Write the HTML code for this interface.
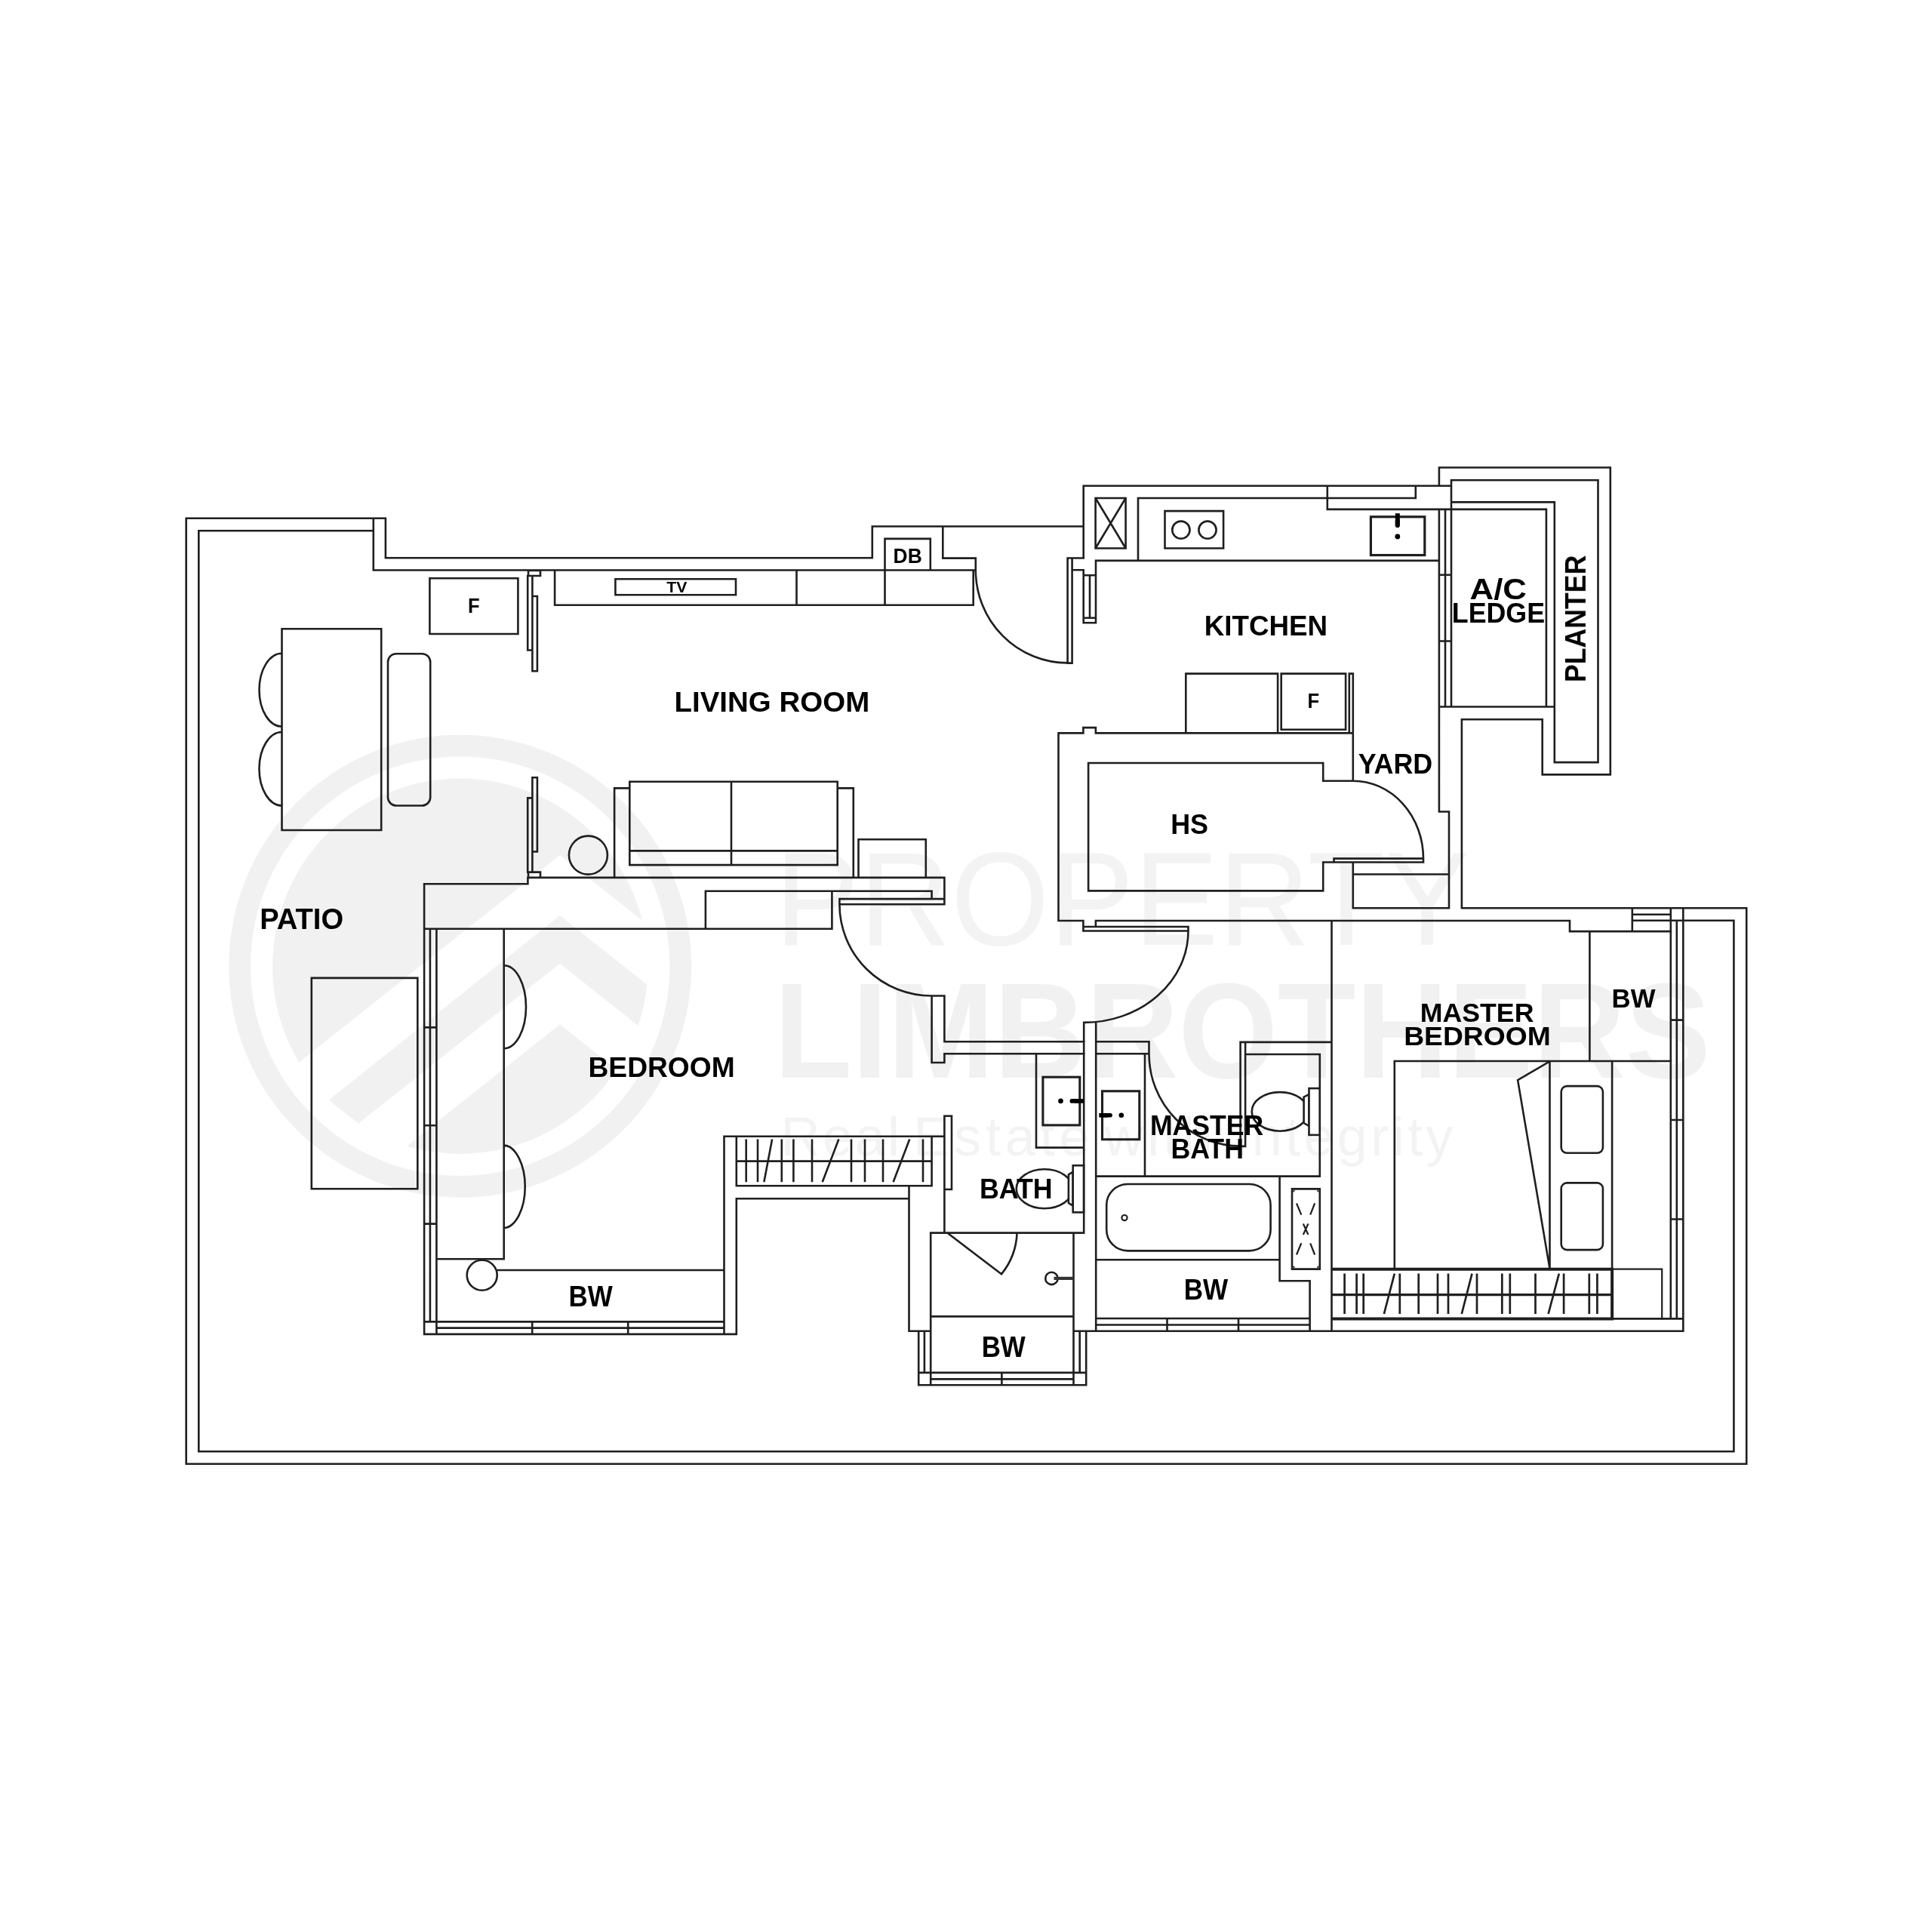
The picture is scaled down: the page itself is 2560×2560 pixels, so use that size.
<!DOCTYPE html>
<html><head><meta charset="utf-8"><title>Floor plan</title>
<style>
html,body{margin:0;padding:0;background:#fff;}
body{width:2560px;height:2560px;overflow:hidden;font-family:"Liberation Sans",sans-serif;}
svg{display:block;}
</style></head><body>
<svg width="2560" height="2560" viewBox="0 0 2560 2560">
<rect width="2560" height="2560" fill="#fff"/>

<g fill="#f1f1f1" stroke="none">
  <defs><clipPath id="disc"><circle cx="609.7" cy="1280.2" r="248.7"/></clipPath>
  <clipPath id="disc2"><circle cx="609.7" cy="1280.2" r="256"/></clipPath></defs>
  <circle cx="609.7" cy="1280.2" r="292.1" fill="none" stroke="#f1f1f1" stroke-width="28.7"/>
  <circle cx="609.7" cy="1280.2" r="248.7"/>
  <g clip-path="url(#disc2)">
    <path fill="#fff" d="M741.9,1133 L340,1452.5 L340,1676.8 L741.9,1357.3 L900,1483 L900,1258.7 Z"/>
  </g>
  <g clip-path="url(#disc)">
    <path d="M741.9,1213 L435.6,1457.8 L474.9,1488.8 L741.9,1276.7 L900,1402.4 L900,1338.7 Z"/>
  </g>
  <g font-family="'Liberation Sans', sans-serif">
    <text transform="translate(1026.65,1252.40) scale(0.9556,1)" font-size="175.73" fill="#f3f3f3">PROPERTY</text>
    <text transform="translate(1025.78,1427.70) scale(0.9450,1)" font-size="179.07" font-weight="bold">LIMBROTHERS</text>
    <text x="1034.54" y="1530.60" font-size="72.24" letter-spacing="3.002" fill="#f3f3f3">Real</text>
    <text x="1210.14" y="1530.60" font-size="72.24" letter-spacing="5.767" fill="#f3f3f3">Estate</text>
    <text x="1462.90" y="1530.60" font-size="72.24" letter-spacing="5.131" fill="#f3f3f3">with</text>
    <text x="1634.32" y="1530.60" font-size="72.24" letter-spacing="4.259" fill="#f3f3f3">Integrity</text>
  </g>
</g>

<g fill="none" stroke="#1f1f1f" stroke-width="2.6" stroke-linecap="square" stroke-linejoin="miter">
<path d="M1936.9,1203.3 L2314.2,1203.3 L2314.2,1939.8 L246.7,1939.8 L246.7,686.8 L510.9,686.8 L510.9,739.3 L1155.8,739.3 L1155.8,697.5 L1435.7,697.5
M1249.3,697.5 L1249.3,739.6 L1292.8,739.6 L1292.8,755.5
M494.8,703.3 L263.3,703.3 L263.3,1923.3 L2297.4,1923.3 L2297.4,1219.8 L2230.6,1219.8
M494.8,686.8 L494.8,755.5 L1292.8,755.5
M569.4,766.3 H686.4 V840.0 H569.4 Z
M373.5,833.3 H505.2 V1100.0 H373.5 Z
M373.5,865.7 A30,48.5 0 0 0 373.5,962.7
M373.5,970 A30,48.7 0 0 0 373.5,1067.5
M700.0,756.0 H716.0 V763.0 H700.0 Z
M699.2,763.0 H705.4 V861.5 H699.2 Z
M705.4,790.0 H711.9 V889.2 H705.4 Z
M705.4,1030.3 H711.9 V1128.5 H705.4 Z
M699.2,1057.4 H705.4 V1155.6 H699.2 Z
M700.0,1155.6 H716.0 V1162.9 H700.0 Z
M735.1,755.5 L735.1,801.7 L1289.7,801.7 L1289.7,755.5
M1055.5,755.5 V801.7
M1172.5,713.9 V801.7
M815.4,767.3 H975.0 V788.3 H815.4 Z
M1172.5,713.9 L1232.8,713.9 L1232.8,755.5
M1251.4,1198.3 L1251.4,1162.9 L699.4,1162.9 L699.4,1171.2 L562.1,1171.2 L562.1,1767.9
M562.1,1230.7 H1102.4
M934.9,1230.7 L934.9,1180.7 L1234.6,1180.7 L1234.6,1191.1
M1102.4,1180.7 V1230.7
M1112.4,1191.1 H1251.4 V1198.3 H1112.4 Z
M1112.4,1198.3 A122.2,121.2 0 0 0 1234.6,1319.5
M1234.6,1408.0 L1234.6,1319.5 L1251.4,1319.5 L1251.4,1380.3 L1436.4,1380.3
M1234.6,1408.0 L1251.4,1408.0 L1251.4,1396.3 L1436.4,1396.3
M834.3,1035.8 H1109.7 V1146.1 H834.3 Z
M969.0,1035.8 V1146.1
M834.3,1127.4 H1109.7
M834.3,1044.4 L814.1,1044.4 L814.1,1162.9
M1109.7,1044.4 L1130.8,1044.4 L1130.8,1162.9
M1137.5,1162.9 L1137.5,1112.2 L1226.8,1112.2 L1226.8,1162.9
M1414.6,739.5 H1420.6 V878.6 H1414.6 Z
M1292.8,755.5 A121.8,123 0 0 0 1414.6,878.4
M1414.6,739.5 H1435.7
M1420.6,755.3 L1435.7,755.3 L1435.7,825.2 L1452.0,825.2
M1435.7,762.3 H1452.0
M1444.0,762.3 V818.7
M1435.7,818.7 H1452.0
M1435.7,739.5 L1435.7,643.8 L1923.0,643.8
M1452.0,825.2 L1452.0,742.9 L1906.9,742.9
M1451.6,660.0 H1491.6 V726.5 H1451.6 Z
M1508.0,742.9 L1508.0,660.0 L1875.8,660.0 L1875.8,643.8
M1543.5,677.1 H1621.1 V726.5 H1543.5 Z
M1758.8,643.8 L1758.8,674.9 L2048.9,674.9 L2048.9,936.5
M1906.9,674.9 V1075.5
M1915.0,674.9 V936.5
M1923.0,636.2 V936.5
M1906.9,761.7 H1923.0
M1906.9,849.5 H1923.0
M1906.9,936.5 H2059.8
M1571.3,971.3 L1571.3,892.6 L1693.1,892.6 L1693.1,971.3
M1697.7,892.6 H1783.1 V966.8 H1697.7 Z
M1787.8,971.3 L1787.8,892.6 L1792.8,892.6 L1792.8,1034.7
M1435.4,1233.5 L1435.4,1220.0 L1402.5,1220.0 L1402.5,971.4 L1435.4,971.4 L1435.4,964.1 L1451.9,964.1 L1451.9,971.4 L1792.8,971.4
M1792.8,1034.7 L1753.2,1034.7 L1753.2,1011.0 L1442.1,1011.0 L1442.1,1180.4 L1753.2,1180.4 L1753.2,1142.5 L1886.0,1142.5
M1767.5,1142.5 L1767.5,1137.6 L1886.0,1137.6 L1886.0,1142.5
M1792.8,1034.7 A93.2,103 0 0 1 1886,1137.6
M1792.8,1142.5 L1792.8,1203.3 L1920.0,1203.3 L1920.0,1075.5 L1906.9,1075.5
M1792.8,1158.5 H1920.0
M1936.9,1203.3 L1936.9,953.3 L2043.7,953.3 L2043.7,1026.4 L2133.8,1026.4 L2133.8,619.5 L1906.9,619.5 L1906.9,643.8
M1923.0,636.2 L2117.5,636.2 L2117.5,1010.1 L2059.8,1010.1 L2059.8,665.4 L1923.0,665.4
M1451.9,1228.0 L1451.9,1220.0 L2080.0,1220.0 L2080.0,1234.1 L2214.0,1234.1
M1435.4,1228.0 H1574.5 V1233.5 H1435.4 Z
M1574.5,1233.5 A138.1,121.4 0 0 1 1436.4,1354.9
M1436.2,1354.9 V1633.6
M1452.2,1354.9 V1763.8
M1764.5,1220.0 V1763.8
M569.9,1230.7 V1751.4
M578.4,1230.7 V1767.9
M562.1,1361.4 H578.4
M562.1,1491.3 H578.4
M562.1,1621.6 H578.4
M562.1,1751.4 H959.5
M578.4,1759.6 H959.5
M562.1,1767.9 H975.8
M705.2,1751.4 V1767.9
M832.2,1751.4 V1767.9
M667.7,1230.7 L667.7,1668.2 L578.4,1668.2
M667.7,1279.3 A29.3,55 0 0 1 667.7,1389.3
M667.7,1517.4 A29.3,55 0 0 1 667.7,1627.3
M660.0,1683.0 H959.5
M412.8,1295.9 H553.3 V1575.2 H412.8 Z
M959.5,1767.9 L959.5,1505.7 L1251.4,1505.7
M975.8,1505.7 H1234.6 V1571.3 H975.8 Z
M975.8,1538.6 H1234.6
M975.8,1767.9 L975.8,1588.3 L1204.5,1588.3
M1204.5,1571.3 L1204.5,1763.8 L1233.2,1763.8
M988.7,1510.8 V1565.0
M1004.0,1510.8 V1565.0
M1035.8,1510.8 V1565.0
M1051.4,1510.8 V1565.0
M1076.0,1510.8 V1565.0
M1128.0,1510.8 V1565.0
M1146.0,1510.8 V1565.0
M1170.0,1510.8 V1565.0
M1223.0,1510.8 V1565.0
M1012.6,1565.0 L1022.9,1510.8
M1090.2,1565.0 L1110.9,1510.8
M1184.1,1565.0 L1204.8,1510.8
M1251.4,1478.8 H1261.0 V1576.0 H1251.4 Z
M1251.4,1505.7 V1633.6
M1233.2,1633.6 H1436.2
M1233.2,1633.6 V1835.3
M1422.5,1633.6 V1835.3
M1233.2,1744.4 H1422.5
M1217.2,1763.8 V1835.3
M1224.9,1763.8 V1818.9
M1217.2,1818.9 H1439.2
M1233.2,1827.4 H1422.5
M1217.2,1835.3 H1439.2
M1327.4,1818.9 V1835.3
M1430.7,1763.8 V1818.9
M1439.2,1763.8 V1835.3
M1422.5,1763.8 H2230.3
M1255.2,1633.6 L1327.0,1688.2
M1327,1688.2 A92.4,92.4 0 0 0 1347.6,1633.6
M1373.0,1396.3 L1373.0,1520.6 L1436.2,1520.6
M1452.2,1380.3 L1522.5,1380.3 L1522.5,1396.3 L1452.2,1396.3
M1522.5,1396.3 A121.2,122.3 0 0 0 1643.6,1518.6
M1517.0,1396.3 V1558.6
M1452.2,1558.6 H1748.8
M1643.6,1380.9 H1764.5
M1643.6,1380.9 H1650.1 V1518.9 H1643.6 Z
M1650.1,1397.0 L1748.8,1397.0 L1748.8,1558.6
M1695.6,1558.6 L1695.6,1697.3 L1735.6,1697.3 L1735.6,1763.8
M1452.2,1669.2 H1695.6
M1712.0,1575.4 H1748.8 V1681.6 H1712.0 Z
M1452.2,1747.0 H1735.6
M1452.2,1755.5 H1735.6
M1546.5,1747.0 V1763.8
M1641.0,1747.0 V1763.8
M2106.4,1234.1 V1406.0
M1847.8,1406.0 H2214.0
M1847.8,1406.0 V1681.7
M2053.5,1406.0 V1681.7
M2136.1,1406.0 V1681.7
M2052.5,1407.0 L2011.1,1431.1 L2053.5,1681.1
M2213.8,1203.3 V1747.4
M2221.8,1219.8 V1747.4
M2230.3,1203.3 V1763.8
M2213.8,1351.6 H2230.3
M2213.8,1484.0 H2230.3
M2213.8,1615.5 H2230.3
M2136.1,1747.4 H2230.3
M2162.8,1203.3 V1234.1
M2162.8,1211.8 H2213.8
M2162.8,1219.8 H2230.6"/>
<rect x="514" y="866.2" width="56.2" height="201.3" rx="11" ry="11"/>
<circle cx="779.4" cy="1133.1" r="25.5"/>
<path d="M1451.6,660 L1491.6,726.5 M1491.6,660 L1451.6,726.5" stroke-linecap="butt"/>
<circle cx="1564.9" cy="702.2" r="11.6"/>
<circle cx="1600" cy="702.2" r="11.6"/>
<rect x="1816.4" y="684.8" width="71.4" height="50.8" stroke-width="3.2"/>
<path d="M1851.8,680.2 V696.4" stroke="#000" stroke-width="6" stroke-linecap="butt"/>
<path d="M1851.8,690 V696.2" stroke="#000" stroke-width="6" stroke-linecap="round"/>
<circle cx="1851.8" cy="711" r="3.4" fill="#000" stroke="none"/>
<circle cx="638.7" cy="1689.7" r="20"/>
<circle cx="1393.4" cy="1693.9" r="8.2"/>
<path d="M1396.5,1693.9 H1422.5" stroke="#333" stroke-width="4.2" stroke-linecap="butt"/>
<ellipse cx="1384" cy="1575.2" rx="37.3" ry="26"/>
<path d="M1415.9,1556.4 L1421.7,1552.8 V1597.7 L1415.9,1594.1 Z" fill="#fff"/>
<rect x="1421.7" y="1544.3" width="14.3" height="62.1" fill="#fff"/>
<rect x="1381.9" y="1427.2" width="48.9" height="63.7" stroke-width="3.1"/>
<circle cx="1405.5" cy="1458.9" r="3.3" fill="#000" stroke="none"/>
<path d="M1420.3,1458.9 H1430" stroke="#000" stroke-width="5.6" stroke-linecap="round"/>
<path d="M1424,1458.9 H1436" stroke="#000" stroke-width="5.6" stroke-linecap="butt"/>
<rect x="1460.5" y="1445.8" width="49.3" height="64" stroke-width="3.1"/>
<circle cx="1485.8" cy="1477.8" r="3.3" fill="#000" stroke="none"/>
<path d="M1456.3,1477.8 H1468" stroke="#000" stroke-width="5.6" stroke-linecap="butt"/>
<path d="M1462,1477.8 H1471.1" stroke="#000" stroke-width="5.6" stroke-linecap="round"/>
<ellipse cx="1696" cy="1472.9" rx="37.3" ry="25.8"/>
<path d="M1727.6,1453.6 L1734.5,1450.2 V1492.1 L1727.6,1488.1 Z" fill="#fff"/>
<rect x="1734.5" y="1442.1" width="14.2" height="61.8" fill="#fff"/>
<rect x="1466.2" y="1569" width="217.4" height="88.4" rx="28" ry="28"/>
<circle cx="1490" cy="1613.6" r="3.6" stroke-width="2.2"/>
<path d="M1718.4,1595.5 L1723.9,1608.7 M1741.7,1595.5 L1736.6,1608.7 M1723.9,1648.3 L1718.4,1661.5 M1736.6,1648.3 L1741.7,1661.5 M1727.3,1622.5 L1733,1635 M1733,1622.5 L1727.3,1635" stroke-width="2.2"/>
<path d="M1713.6,1579.4 l1.6,-2.4 M1747.2,1579.4 l-1.6,-2.4 M1713.6,1677.6 l1.6,2.4 M1747.2,1677.6 l-1.6,2.4" stroke-width="1.6" stroke-linecap="butt"/>
<rect x="2068.7" y="1439.1" width="55.2" height="88.7" rx="7.5" ry="7.5"/>
<rect x="2068.7" y="1567.4" width="55.2" height="88.7" rx="7.5" ry="7.5"/>
<path d="M1764.5,1681.7 H2136.1 V1747.4 H1764.5" stroke-width="4" stroke-linecap="butt"/>
<path d="M1764.5,1715.7 H2136.1" stroke-width="3.2" stroke-linecap="butt"/>
<path d="M2136.1,1681.7 H2202.2 V1747.4" stroke-width="2.2"/>
<path d="M1781.6,1687.6 V1741 M1797.6,1687.6 V1741 M1806.7,1687.6 V1741 M1854.8,1687.6 V1741 M1879.7,1687.6 V1741 M1905.0,1687.6 V1741 M1919.0,1687.6 V1741 M1957.0,1687.6 V1741 M1990.3,1687.6 V1741 M2000.8,1687.6 V1741 M2034.5,1687.6 V1741 M2072.1,1687.6 V1741 M2105.8,1687.6 V1741 M2116.4,1687.6 V1741 M1833.9,1741 L1847.8,1687.6 M1936.8,1741 L1950.5,1687.6 M2051.6,1741 L2065.8,1687.6" stroke-width="2.7" stroke-linecap="butt"/>
</g>
<g font-family="'Liberation Sans', sans-serif" font-weight="bold" fill="#000" style="opacity:0.999">
<text transform="translate(619.97,811.60) scale(0.9179,1)" font-size="27.91">F</text>
<text transform="translate(883.19,784.80) scale(1.0055,1)" font-size="21.08">TV</text>
<text transform="translate(893.50,943.30) scale(1.0226,1)" font-size="37.65">LIVING ROOM</text>
<text transform="translate(1183.62,745.80) scale(0.9515,1)" font-size="27.76">DB</text>
<text transform="translate(1595.82,842.20) scale(0.9994,1)" font-size="36.77">KITCHEN</text>
<text transform="translate(1732.47,938.30) scale(0.9131,1)" font-size="28.05">F</text>
<text transform="translate(1799.87,1024.60) scale(0.9648,1)" font-size="37.21">YARD</text>
<text transform="translate(1551.17,1104.90) scale(0.9548,1)" font-size="37.65">HS</text>
<text transform="translate(1947.50,794.20) scale(1.1554,1)" font-size="37.94">A/C</text>
<text transform="translate(1923.78,825.00) scale(0.9585,1)" font-size="37.35">LEDGE</text>
<text transform="translate(344.23,1230.50) scale(1.0054,1)" font-size="37.94">PATIO</text>
<text transform="translate(779.49,1426.60) scale(1.0073,1)" font-size="36.92">BEDROOM</text>
<text transform="translate(753.54,1730.90) scale(0.9017,1)" font-size="38.81">BW</text>
<text transform="translate(1297.88,1587.50) scale(0.9744,1)" font-size="36.77">BATH</text>
<text transform="translate(1300.64,1797.80) scale(0.9103,1)" font-size="38.37">BW</text>
<text transform="translate(1523.89,1503.80) scale(0.9579,1)" font-size="37.21">MASTER</text>
<text transform="translate(1551.39,1534.60) scale(0.9572,1)" font-size="37.35">BATH</text>
<text transform="translate(1568.63,1721.70) scale(0.9152,1)" font-size="38.37">BW</text>
<text transform="translate(1881.69,1354.00) scale(1.0154,1)" font-size="35.17">MASTER</text>
<text transform="translate(1860.19,1384.80) scale(1.0590,1)" font-size="35.17">BEDROOM</text>
<text transform="translate(2135.55,1335.40) scale(0.9716,1)" font-size="35.76">BW</text>
<text transform="translate(2100.9,904.11) rotate(-90) scale(0.9370,1)" font-size="38.08">PLANTER</text>
</g>
</svg>
</body></html>
